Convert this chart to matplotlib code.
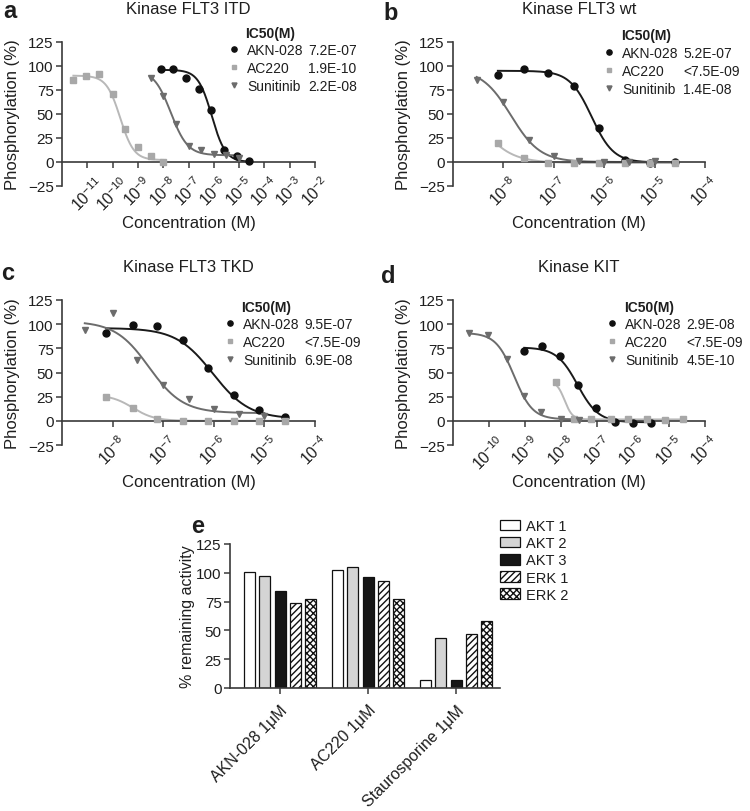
import numpy as np
import matplotlib
matplotlib.use('Agg')
import matplotlib.pyplot as plt
from matplotlib.lines import Line2D
from matplotlib.patches import Patch

plt.rcParams['font.family'] = ['Liberation Sans', 'DejaVu Sans']
plt.rcParams['mathtext.fontset'] = 'custom'
plt.rcParams['mathtext.rm'] = 'Liberation Sans'
plt.rcParams['mathtext.it'] = 'Liberation Sans:italic'
plt.rcParams['mathtext.bf'] = 'Liberation Sans:bold'
plt.rcParams['hatch.linewidth'] = 1.0

W, H, DPI = 750, 812, 100

# ---------------- data (log10 molar concentration, % phosphorylation) ----------------
compounds = ['AKN-028', 'AC220', 'Sunitinib']

# panel a: Kinase FLT3 ITD
a_akn_logc = [-8.1, -7.6, -7.1, -6.6, -6.1, -5.6, -5.1, -4.6]
a_akn_y = [96.5, 96.5, 88, 76, 54.5, 13, 6, 1]
a_ac220_logc = [-11.55, -11.05, -10.55, -10.0, -9.5, -9.0, -8.5, -8.0]
a_ac220_y = [85, 90, 92, 71, 34, 16, 6, 0]
a_sun_logc = [-8.5, -8.0, -7.5, -7.0, -6.5, -6.0, -5.5, -5.0]
a_sun_y = [87, 69, 40, 17, 13, 8, 7.5, 4.5]
a_ic50 = ['7.2E-07', '1.9E-10', '2.2E-08']
# fitted curves: top, bottom, logIC50, hill
a_akn_fit = [96, 0, -6.08, 1.6]
a_ac220_fit = [90, 2, -9.7, 1.6]
a_sun_fit = [96, 7, -7.7, 1.3]

# panel b: Kinase FLT3 wt
b_akn_logc = [-8.11, -7.59, -7.12, -6.59, -6.11, -5.58, -5.1, -4.6]
b_akn_y = [91, 97, 93, 79, 35, 2.5, -1, -0.5]
b_ac220_logc = [-8.11, -7.59, -7.12, -6.59, -6.11, -5.58, -5.1, -4.6]
b_ac220_y = [20, 4, -1, -1, -1, -1, -1, -1]
b_sun_logc = [-8.53, -8.0, -7.5, -7.0, -6.5, -6.0, -5.5, -5.0]
b_sun_y = [85, 62.5, 23, 6.5, 1, 0.5, 0, 1]
b_ic50 = ['5.2E-07', '<7.5E-09', '1.4E-08']
b_akn_fit = [95, -0.5, -6.25, 2.0]
b_ac220_fit = [100, -1, -8.6, 1.3]
b_sun_fit = [97, 0, -7.85, 1.5]

# panel c: Kinase FLT3 TKD
c_akn_logc = [-8.13, -7.6, -7.12, -6.6, -6.11, -5.6, -5.11, -4.59]
c_akn_y = [91, 99, 98, 84, 54.5, 27, 11, 4]
c_ac220_logc = [-8.13, -7.6, -7.12, -6.6, -6.11, -5.6, -5.11, -4.59]
c_ac220_y = [25, 13, 2.4, 0, 0, 0, 0, 0]
c_sun_logc = [-8.55, -8.0, -7.52, -7.0, -6.5, -5.99, -5.5, -5.0]
c_sun_y = [94, 112, 63, 37, 23, 12, 7, 5]
c_ic50 = ['9.5E-07', '<7.5E-09', '6.9E-08']
c_akn_fit = [96, 2, -6.02, 1.2]
c_ac220_fit = [27, 0, -7.6, 2.0]
c_sun_fit = [103, 8, -7.28, 1.3]

# panel d: Kinase KIT
d_akn_logc = [-9.02, -8.54, -8.03, -7.53, -7.02, -6.51, -6.0, -5.5]
d_akn_y = [72, 77.5, 67, 37.5, 13, -1, -2, -2]
d_ac220_logc = [-8.14, -7.63, -7.16, -6.6, -6.14, -5.6, -5.12, -4.6]
d_ac220_y = [40, 2.4, 1.4, 1.4, 2, 2.4, 0.7, 1.4]
d_sun_logc = [-10.56, -10.03, -9.5, -9.02, -8.56, -8.0, -7.5]
d_sun_y = [91, 89, 64, 26, 9, 2.4, 1]
d_ic50 = ['2.9E-08', '<7.5E-09', '4.5E-10']
d_akn_fit = [76, -1.5, -7.54, 1.5]
d_ac220_fit = [41, 1.5, -7.9, 4.0]
d_sun_fit = [91, 1.5, -9.3, 1.7]

# panel e: % remaining activity
e_groups = ['AKN-028 1\u03bcM', 'AC220 1\u03bcM', 'Staurosporine 1\u03bcM']
e_kinases = ['AKT 1', 'AKT 2', 'AKT 3', 'ERK 1', 'ERK 2']
e_akt1 = [101, 102, 7]
e_akt2 = [97, 105, 43]
e_akt3 = [84, 96, 7]
e_erk1 = [74, 93, 47]
e_erk2 = [77, 77, 58]

# ---------------- style ----------------
COL = {'AKN-028': '#101010', 'AC220': '#a8a8a8', 'Sunitinib': '#6c6c6c'}
MARK = {'AKN-028': ('o', 5.0), 'AC220': ('s', 4.5), 'Sunitinib': ('v', 4.8)}
LINEC = {'AKN-028': '#1a1a1a', 'AC220': '#b8b8b8', 'Sunitinib': '#6c6c6c'}
AXC = '#3a3a3a'
TXC = '#1e1e1e'

fig = plt.figure(figsize=(W / DPI, H / DPI), dpi=DPI)


def add_ax(l, r, t, b):
    return fig.add_axes([l / W, 1 - b / H, (r - l) / W, (b - t) / H])


def four_pl(logc, p):
    top, bottom, mid, hill = p
    return bottom + (top - bottom) / (1 + 10 ** ((logc - mid) * hill))


def ftext(x, y, s, **kw):
    fig.text(x / W, 1 - y / H, s, color=TXC, **kw)


panels = [
    dict(px=(62, 315, 43, 187), xlim=(-12, -2), xt=range(-11, -1), title='Kinase FLT3 ITD',
         letter='a', lpos=(10, 12), series=[(a_akn_logc, a_akn_y, a_akn_fit), (a_ac220_logc, a_ac220_y, a_ac220_fit),
                                          (a_sun_logc, a_sun_y, a_sun_fit)], ic50=a_ic50,
         hdr=(245, 34), leg=(229, 44)),
    dict(px=(453, 705, 43, 187), xlim=(-9, -4), xt=range(-8, -3), title='Kinase FLT3 wt',
         letter='b', lpos=(391, 13), series=[(b_akn_logc, b_akn_y, b_akn_fit), (b_ac220_logc, b_ac220_y, b_ac220_fit),
                                           (b_sun_logc, b_sun_y, b_sun_fit)], ic50=b_ic50,
         hdr=(621, 36), leg=(604, 47)),
    dict(px=(62, 315, 301, 446), xlim=(-9, -4), xt=range(-8, -3), title='Kinase FLT3 TKD',
         letter='c', lpos=(8, 274), series=[(c_akn_logc, c_akn_y, c_akn_fit), (c_ac220_logc, c_ac220_y, c_ac220_fit),
                                          (c_sun_logc, c_sun_y, c_sun_fit)], ic50=c_ic50,
         hdr=(241, 308), leg=(225, 318)),
    dict(px=(453, 705, 301, 446), xlim=(-11, -4), xt=range(-10, -3), title='Kinase KIT',
         letter='d', lpos=(388, 277), series=[(d_akn_logc, d_akn_y, d_akn_fit), (d_ac220_logc, d_ac220_y, d_ac220_fit),
                                            (d_sun_logc, d_sun_y, d_sun_fit)], ic50=d_ic50,
         hdr=(624, 308), leg=(607, 318)),
]

for P in panels:
    l, r, t, b = P['px']
    ax = add_ax(l, r, t, b)
    ax.set_xscale('log')
    ax.set_xlim(10.0 ** P['xlim'][0], 10.0 ** P['xlim'][1])
    ax.set_ylim(-25, 125)
    for sp in ['top', 'right']:
        ax.spines[sp].set_visible(False)
    ax.spines['bottom'].set_position(('data', 0))
    for sp in ['left', 'bottom']:
        ax.spines[sp].set_color(AXC)
        ax.spines[sp].set_linewidth(1.2)
    ax.set_yticks([-25, 0, 25, 50, 75, 100, 125])
    ax.set_xticks([10.0 ** e for e in P['xt']])
    ax.xaxis.set_minor_locator(matplotlib.ticker.NullLocator())
    ax.tick_params(axis='both', colors=AXC, labelcolor=TXC, width=1.1, length=4)
    ax.tick_params(axis='x', labelrotation=45, pad=4, labelsize=11.5)
    ax.tick_params(axis='y', pad=2, labelsize=11)
    for name, (lc, ly, fit) in zip(compounds, P['series']):
        lc = np.array(lc)
        xs = np.linspace(lc.min(), lc.max(), 300)
        ax.plot(10 ** xs, four_pl(xs, fit), color=LINEC[name], lw=1.4, zorder=2)
        m, ms = MARK[name]
        ax.plot(10 ** lc, ly, ls='none', marker=m, ms=ms, color=COL[name], zorder=3, clip_on=False)
    ax.set_title(P['title'], fontsize=12, color=TXC, y=1.0 + 33.0 / (b - t), va='center', pad=0)
    ax.set_xlabel('Concentration (M)', fontsize=12, color=TXC)
    ax.xaxis.set_label_coords(0.5, -29.0 / (b - t))
    ax.set_ylabel('Phosphorylation (%)', fontsize=12, color=TXC)
    ax.yaxis.set_label_coords(-42.0 / (r - l), 0.5)
    ftext(*P['lpos'], P['letter'], fontsize=17, fontweight='bold', ha='center', va='center')
    # IC50 legend
    handles = [Line2D([], [], ls='none', marker=MARK[n][0], ms=MARK[n][1], color=COL[n]) for n in compounds]
    handles += [Line2D([], [], ls='none') for _ in compounds]
    labels = compounds + P['ic50']
    ftext(*P['hdr'], 'IC50(M)', fontsize=10, fontweight='bold', ha='left', va='center')
    leg = ax.legend(handles, labels, ncol=2, loc='upper left',
                    bbox_to_anchor=(P['leg'][0] / W, 1 - P['leg'][1] / H), bbox_transform=fig.transFigure,
                    frameon=False, borderpad=0, borderaxespad=0, handlelength=0.7, handletextpad=0.6,
                    columnspacing=-0.95, labelspacing=0.3, fontsize=10, markerscale=0.75)
    for txt in leg.get_texts():
        txt.set_color(TXC)

# ---------------- panel e ----------------
axe = add_ax(230, 500, 545, 689)
x = np.arange(len(e_groups))
offs = [-0.35, -0.175, 0.0, 0.175, 0.35]
styles = [
    dict(facecolor='white', hatch=None),
    dict(facecolor='#d4d4d4', hatch=None),
    dict(facecolor='#161616', hatch=None),
    dict(facecolor='white', hatch='/////'),
    dict(facecolor='white', hatch='xxxxx'),
]
series_e = [e_akt1, e_akt2, e_akt3, e_erk1, e_erk2]
for vals, off, st, lab in zip(series_e, offs, styles, e_kinases):
    axe.bar(x + off, vals, width=0.125, edgecolor='#111111', linewidth=0.9, label=lab, **st)
axe.set_xlim(-0.57, 2.5)
axe.set_ylim(0, 125)
axe.set_yticks([0, 25, 50, 75, 100, 125])
for sp in ['top', 'right']:
    axe.spines[sp].set_visible(False)
for sp in ['left', 'bottom']:
    axe.spines[sp].set_color(AXC)
    axe.spines[sp].set_linewidth(1.2)
axe.set_xticks(x)
axe.set_xticklabels(e_groups, rotation=45, ha='right', rotation_mode='anchor', fontsize=11.5, color=TXC)
axe.tick_params(axis='both', colors=AXC, labelcolor=TXC, width=1.1, length=4)
axe.tick_params(axis='y', labelsize=11, pad=2)
axe.tick_params(axis='x', pad=6)
axe.set_ylabel('% remaining activity', fontsize=11.5, color=TXC)
axe.yaxis.set_label_coords(-35.0 / 270, 0.5)
ftext(198, 527, 'e', fontsize=17, fontweight='bold', ha='center', va='center')
legh = [Patch(edgecolor='#111111', linewidth=0.9, **st) for st in styles]
lege = axe.legend(legh, e_kinases, loc='upper left', bbox_to_anchor=(500 / W, 1 - 520 / H),
                  bbox_transform=fig.transFigure, frameon=False, borderpad=0, borderaxespad=0,
                  handlelength=1.35, handleheight=0.75, handletextpad=0.45, labelspacing=0.22, fontsize=10.5)
for txt in lege.get_texts():
    txt.set_color(TXC)

fig.savefig('out.png', dpi=DPI)
